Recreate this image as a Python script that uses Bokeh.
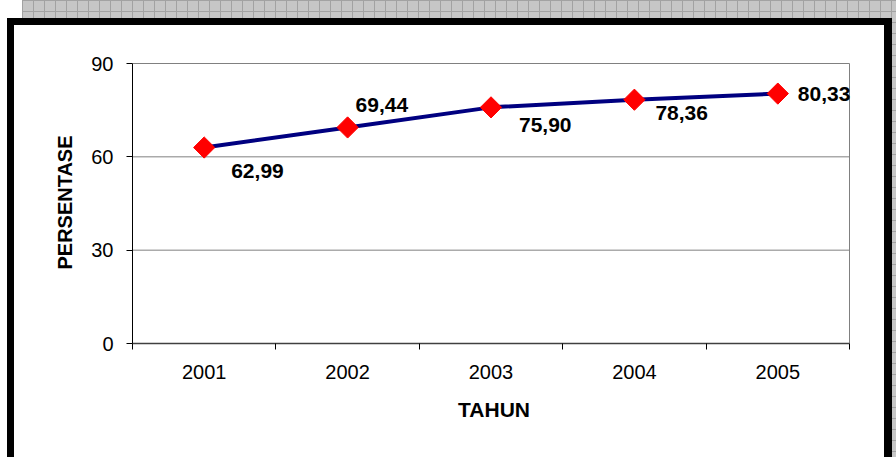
from bokeh.plotting import figure
from bokeh.models import ColumnDataSource, Range1d, FixedTicker, LabelSet
from bokeh.core.properties import value
from bokeh.embed import file_html
from bokeh.resources import INLINE

# ---- data ----
years = ["2001", "2002", "2003", "2004", "2005"]
persentase = [62.99, 69.44, 75.90, 78.36, 80.33]
y_ticks = [0, 30, 60, 90]

# label placement (pixels) - style only
label_dx = [27, 8, 28, 21, 20]
label_dy = [-23, 22, -18, -13, 0]

xs = [i + 1 for i in range(len(years))]
labels = [f"{v:.2f}".replace(".", ",") for v in persentase]
src = ColumnDataSource(dict(x=xs, y=persentase, lab=labels, dx=label_dx, dy=label_dy))

FONT = "Liberation Sans"

# plot area: x 132..849 / y 63..343 visually; frame extended a little so the
# last data label and the top grid line are not clipped
x_lo, x_hi = 0.5, len(years) + 0.5
x_end = x_lo + len(years) * (855 - 132) / (849 - 132)
y_lo, y_hi = 0, 90
y_end = y_hi * (343 - 61) / (343 - 63)

p = figure(width=896, height=457, output_backend="svg", toolbar_location=None,
           x_range=Range1d(x_lo, x_end), y_range=Range1d(y_lo, y_end),
           min_border_left=132, min_border_right=41, min_border_top=61, min_border_bottom=114)
p.background_fill_color = None
p.border_fill_color = None
p.outline_line_color = None

# decorative frame drawn behind the transparent canvas
p.styles = {
    "background-image": ", ".join([
        "linear-gradient(#ffffff, #ffffff)",
        "linear-gradient(#000000, #000000)",
        "repeating-linear-gradient(90deg, #a2a2a2 0px, #a2a2a2 1px, transparent 1px, transparent 11px)",
        "repeating-linear-gradient(180deg, #a2a2a2 0px, #a2a2a2 1px, transparent 1px, transparent 11px)",
        "linear-gradient(#c6c6c6, #c6c6c6)",
    ]),
    "background-position": "14px 25px, 7px 18px, 22px 0px, 22px 0px, 22px 0px",
    "background-size": "870px 432px, 885px 439px, 874px 457px, 874px 457px, 874px 457px",
    "background-repeat": "no-repeat, no-repeat, no-repeat, no-repeat, no-repeat",
}

# axes
xa = p.xaxis[0]
xa.bounds = (x_lo, x_hi)
xa.ticker = FixedTicker(ticks=xs, minor_ticks=[x - 0.5 for x in xs] + [x_hi])
xa.major_label_overrides = {x: y for x, y in zip(xs, years)}
xa.major_tick_out = 0
xa.major_tick_in = 0
xa.minor_tick_out = 6
xa.minor_tick_in = 0
xa.minor_tick_line_color = "black"
xa.axis_line_color = "#404040"
xa.axis_line_width = 1.5
xa.major_label_standoff = 15
xa.major_label_text_font = FONT
xa.major_label_text_font_size = "20px"
xa.major_label_text_color = "black"
xa.axis_label = "TAHUN"
xa.axis_label_text_font = FONT
xa.axis_label_text_font_size = "21px"
xa.axis_label_text_font_style = "bold"
xa.axis_label_text_color = "black"
xa.axis_label_standoff = 16

ya = p.yaxis[0]
ya.bounds = (y_lo, y_hi)
ya.ticker = FixedTicker(ticks=y_ticks)
ya.major_tick_out = 6
ya.major_tick_in = 0
ya.minor_tick_out = 0
ya.minor_tick_in = 0
ya.axis_line_color = "black"
ya.major_label_standoff = 13
ya.major_label_text_font = FONT
ya.major_label_text_font_size = "20px"
ya.major_label_text_color = "black"
ya.axis_label = "PERSENTASE"
ya.axis_label_text_font = FONT
ya.axis_label_text_font_size = "20px"
ya.axis_label_text_font_style = "bold"
ya.axis_label_text_color = "black"
ya.axis_label_standoff = 12

# gridlines limited to the plot area, plus the plot-area right border
p.xgrid.visible = False
p.ygrid.visible = False
grid_y = [t for t in y_ticks if t > y_lo]
p.segment(x0=[x_lo] * len(grid_y), x1=[x_hi] * len(grid_y), y0=grid_y, y1=grid_y,
          line_color="#808080", line_width=1)
p.segment(x0=[x_hi], x1=[x_hi], y0=[y_lo], y1=[y_hi], line_color="#808080", line_width=1)

# series
p.line("x", "y", source=src, line_color="#000080", line_width=4)
p.scatter("x", "y", source=src, marker="square", size=15, angle=0.785398,
          fill_color="#ff0000", line_color="#ff0000")

lbl = LabelSet(x="x", y="y", text="lab", source=src, x_offset="dx", y_offset="dy",
               text_font=value(FONT), text_font_size=value("21px"), text_font_style="bold",
               text_color="black", text_align="left", text_baseline="middle")
p.add_layout(lbl)

open("out.html", "w").write(file_html(p, INLINE))
